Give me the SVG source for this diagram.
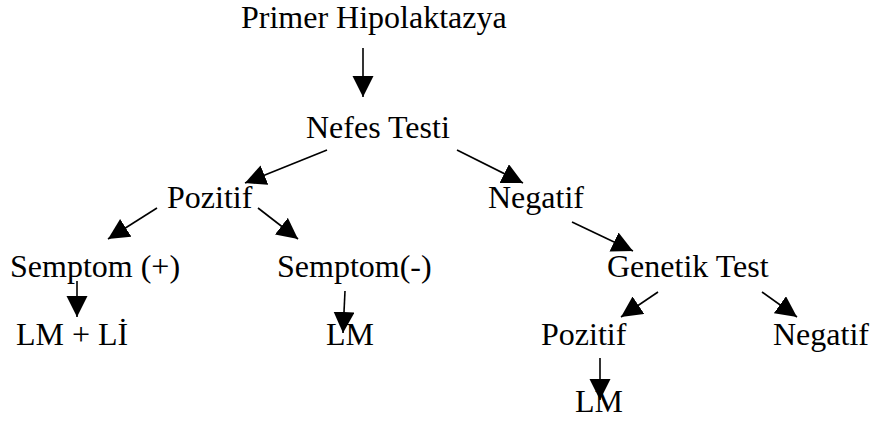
<svg xmlns="http://www.w3.org/2000/svg" width="874" height="421" viewBox="0 0 874 421">
<defs>
<marker id="ah" markerUnits="userSpaceOnUse" markerWidth="22" markerHeight="22" refX="21" refY="10.5" orient="auto">
<path d="M0,0 L21,10.5 L0,21 Z" fill="#000"/>
</marker>
<style>
text{font-family:"Liberation Serif","Times New Roman",serif;font-size:32px;fill:#000}
.c line{stroke:#000;stroke-width:1.6;marker-end:url(#ah)}
</style>
</defs>
<rect width="874" height="421" fill="#fff"/>
<g id="n-primer"><text x="241" y="28">Primer Hipolaktazya</text></g>
<g id="n-nefes"><text x="306" y="138">Nefes Testi</text></g>
<g id="n-pozitif1"><text x="167" y="208">Pozitif</text></g>
<g id="n-negatif1"><text x="488" y="208">Negatif</text></g>
<g id="n-semptomp"><text x="10" y="277">Semptom (+)</text></g>
<g id="n-semptomm"><text x="277" y="277">Semptom(-)</text></g>
<g id="n-genetik"><text x="607" y="277">Genetik Test</text></g>
<g id="n-lmli"><text x="16" y="345">LM + Lİ</text></g>
<g id="n-lm1"><text x="326" y="345">LM</text></g>
<g id="n-pozitif2"><text x="541" y="345">Pozitif</text></g>
<g id="n-negatif2"><text x="773" y="345">Negatif</text></g>
<g id="n-lm2"><text x="575" y="412">LM</text></g>
<g id="connectors" class="c">
<line x1="363" y1="48" x2="363" y2="97"/>
<line x1="327" y1="150" x2="245" y2="183"/>
<line x1="457" y1="150" x2="523" y2="183"/>
<line x1="157" y1="208" x2="108" y2="239"/>
<line x1="258" y1="208" x2="298" y2="239"/>
<line x1="77" y1="281" x2="77" y2="317"/>
<line x1="345" y1="291" x2="343" y2="333"/>
<line x1="572" y1="222" x2="633" y2="251"/>
<line x1="658" y1="292" x2="621" y2="317"/>
<line x1="762" y1="292" x2="797" y2="317"/>
<line x1="600" y1="358" x2="600" y2="400"/>
</g>
</svg>
